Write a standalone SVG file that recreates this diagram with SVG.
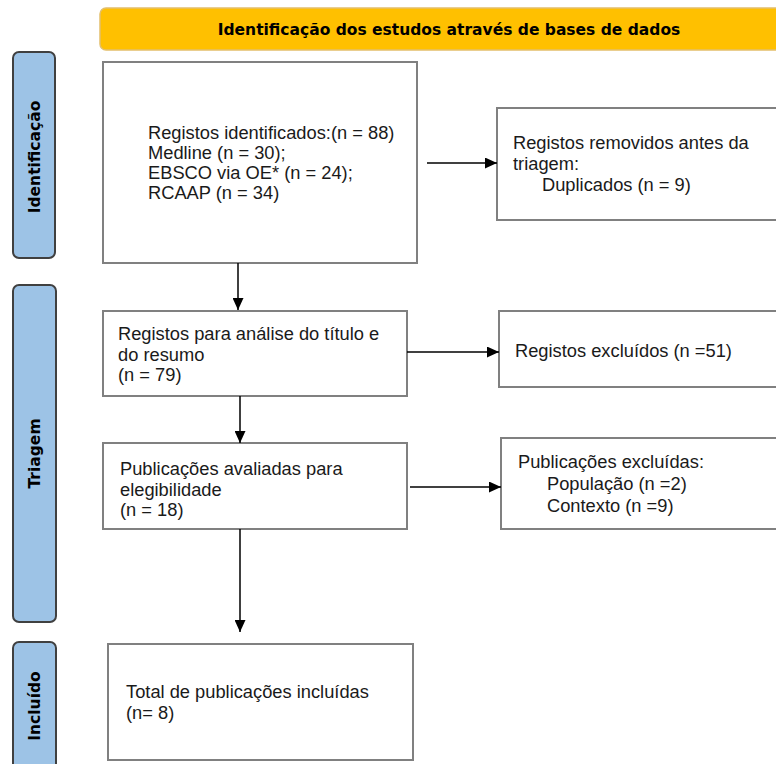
<svg xmlns="http://www.w3.org/2000/svg" width="776" height="764" viewBox="0 0 776 764">
<style>
.box{fill:#fff;stroke:#808080;stroke-width:2}
.lane{fill:#9DC3E6;stroke:#404040;stroke-width:2}
.t{font-family:"Liberation Sans",Arial,sans-serif;font-size:18.3px;fill:#1a1a1a}
.lt{font-family:"DejaVu Sans",Verdana,sans-serif;font-size:15.5px;font-weight:bold;fill:#000}
.con{stroke:#000;stroke-width:1.5;fill:none;marker-end:url(#ah)}
</style>
<defs>
<marker id="ah" markerUnits="userSpaceOnUse" markerWidth="12" markerHeight="11" refX="12" refY="5.5" orient="auto">
<path d="M0,0 L12,5.5 L0,11 z" fill="#000"/>
</marker>
</defs>
<rect width="776" height="764" fill="#fff"/>
<g id="header">
<rect x="100" y="8" width="700" height="42" rx="6" fill="#FFC000" stroke="#E3BF6B" stroke-width="1.5"/>
<text class="lt" x="449" y="35" text-anchor="middle">Identificação dos estudos através de bases de dados</text>
</g>
<g id="lane-identificacao">
<rect class="lane" x="13" y="52" width="42" height="206" rx="6"/>
<text class="lt" transform="translate(34,157) rotate(-90)" y="5.5" text-anchor="middle">Identificação</text>
</g>
<g id="lane-triagem">
<rect class="lane" x="13" y="285" width="43" height="337" rx="6"/>
<text class="lt" transform="translate(34.5,453.5) rotate(-90)" y="5.5" text-anchor="middle">Triagem</text>
</g>
<g id="lane-incluido">
<rect class="lane" x="13" y="642" width="43" height="140" rx="6"/>
<text class="lt" transform="translate(34.5,706) rotate(-90)" y="5.5" text-anchor="middle">Incluído</text>
</g>
<g id="node-identificados">
<rect class="box" x="103" y="62" width="314" height="201"/>
<text class="t" x="148" y="139">Registos identificados:(n = 88)</text>
<text class="t" x="148" y="159">Medline (n = 30);</text>
<text class="t" x="148" y="179">EBSCO via OE* (n = 24);</text>
<text class="t" x="148" y="199">RCAAP (n = 34)</text>
</g>
<g id="node-removidos">
<rect class="box" x="497" y="108" width="300" height="112"/>
<text class="t" x="513" y="149">Registos removidos antes da</text>
<text class="t" x="513" y="170">triagem:</text>
<text class="t" x="542" y="191">Duplicados (n = 9)</text>
</g>
<g id="node-analise">
<rect class="box" x="103" y="311" width="304" height="85"/>
<text class="t" x="118" y="340">Registos para análise do título e</text>
<text class="t" x="118" y="360.5">do resumo</text>
<text class="t" x="118" y="381">(n = 79)</text>
</g>
<g id="node-excluidos">
<rect class="box" x="499" y="311" width="300" height="76"/>
<text class="t" x="515" y="357">Registos excluídos (n =51)</text>
</g>
<g id="node-avaliadas">
<rect class="box" x="103" y="443" width="304" height="86"/>
<text class="t" x="120" y="475">Publicações avaliadas para</text>
<text class="t" x="120" y="495.5">elegibilidade</text>
<text class="t" x="120" y="516">(n = 18)</text>
</g>
<g id="node-pub-excluidas">
<rect class="box" x="501" y="438" width="300" height="91"/>
<text class="t" x="518" y="468">Publicações excluídas:</text>
<text class="t" x="547" y="490">População (n =2)</text>
<text class="t" x="547" y="512">Contexto (n =9)</text>
</g>
<g id="node-incluidas">
<rect class="box" x="108" y="644" width="305" height="116"/>
<text class="t" x="126" y="698">Total de publicações incluídas</text>
<text class="t" x="126" y="719">(n= 8)</text>
</g>
<g id="connectors">
<line class="con" x1="238" y1="263" x2="238" y2="310"/>
<line class="con" x1="427" y1="163" x2="497" y2="163"/>
<line class="con" x1="407" y1="352" x2="499" y2="352"/>
<line class="con" x1="240" y1="396" x2="240" y2="443"/>
<line class="con" x1="410" y1="487" x2="501" y2="487"/>
<line class="con" x1="240" y1="529" x2="240" y2="632"/>
</g>
</svg>
